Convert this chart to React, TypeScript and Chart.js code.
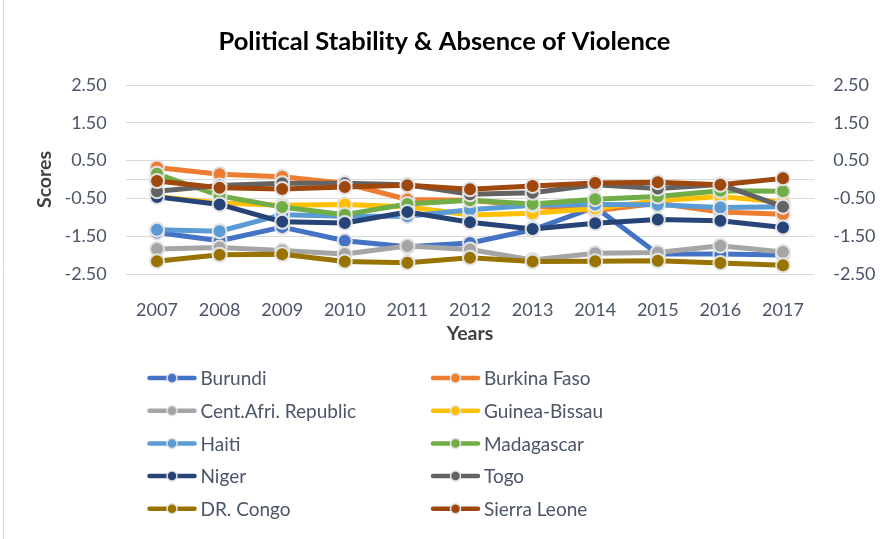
import React, { useEffect, useRef } from "react";
import { Chart, registerables } from "chart.js";

Chart.register(...registerables);

// Years on the category axis
const years = ["2007", "2008", "2009", "2010", "2011", "2012", "2013", "2014", "2015", "2016", "2017"];

// Political Stability & Absence of Violence estimates per country
const burundi = [-1.4, -1.62, -1.26, -1.62, -1.78, -1.68, -1.33, -0.73, -1.97, -1.97, -2.0];
const burkinaFaso = [0.32, 0.14, 0.07, -0.1, -0.53, -0.55, -0.7, -0.83, -0.63, -0.86, -0.92];
const centAfriRepublic = [-1.84, -1.8, -1.88, -1.97, -1.76, -1.85, -2.13, -1.95, -1.93, -1.75, -1.92];
const guineaBissau = [-0.45, -0.62, -0.68, -0.66, -0.72, -0.94, -0.89, -0.77, -0.56, -0.45, -0.6];
const haiti = [-1.33, -1.37, -0.93, -0.97, -0.97, -0.8, -0.68, -0.66, -0.67, -0.74, -0.72];
const madagascar = [0.15, -0.43, -0.73, -0.93, -0.65, -0.55, -0.65, -0.52, -0.45, -0.3, -0.31];
const niger = [-0.46, -0.66, -1.12, -1.15, -0.86, -1.13, -1.31, -1.16, -1.06, -1.09, -1.27];
const togo = [-0.31, -0.16, -0.1, -0.1, -0.14, -0.39, -0.35, -0.14, -0.24, -0.13, -0.72];
const drCongo = [-2.16, -1.99, -1.98, -2.17, -2.2, -2.07, -2.17, -2.16, -2.15, -2.21, -2.27];
const sierraLeone = [-0.04, -0.22, -0.25, -0.2, -0.15, -0.26, -0.17, -0.09, -0.07, -0.14, 0.03];

const countries = [
  "Burundi",
  "Burkina Faso",
  "Cent.Afri. Republic",
  "Guinea-Bissau",
  "Haiti",
  "Madagascar",
  "Niger",
  "Togo",
  "DR. Congo",
  "Sierra Leone",
];

const colors = [
  "#4472C4",
  "#ED7D31",
  "#A5A5A5",
  "#FFC000",
  "#5B9BD5",
  "#70AD47",
  "#264478",
  "#636363",
  "#997300",
  "#9E480E",
];

const FONT = "Lato, 'Open Sans', sans-serif";
const TEXT = "#4a5568";
const GRID = "#d9d9d9";
const MARKER_RING = "#e2e2e2";

function isLabelledTick(v: number) {
  const h = Math.round(v * 2);
  return h % 2 !== 0;
}

// Two-column legend under the plot, in series order row by row
const legendPlugin = {
  id: "twoColumnLegend",
  afterDraw(chart: any) {
    const ctx = chart.ctx;
    const colX = [147.5, 431];
    const rowY0 = 378;
    const rowStep = 32.7;
    ctx.save();
    chart.data.datasets.forEach((ds: any, i: number) => {
      const x = colX[i % 2];
      const y = rowY0 + Math.floor(i / 2) * rowStep;
      ctx.strokeStyle = ds.borderColor;
      ctx.lineWidth = 4.5;
      ctx.lineCap = "round";
      ctx.beginPath();
      ctx.moveTo(x + 2, y);
      ctx.lineTo(x + 47, y);
      ctx.stroke();
      ctx.beginPath();
      ctx.arc(x + 24.5, y, 5, 0, Math.PI * 2);
      ctx.fillStyle = ds.borderColor;
      ctx.fill();
      ctx.lineWidth = 1.5;
      ctx.strokeStyle = MARKER_RING;
      ctx.stroke();
      ctx.fillStyle = TEXT;
      ctx.font = `19px ${FONT}`;
      ctx.textAlign = "left";
      ctx.textBaseline = "middle";
      ctx.fillText(ds.label, x + 53, y + 1);
    });
    ctx.restore();
  },
};

// Thin frame line on the left edge of the chart
const framePlugin = {
  id: "leftFrame",
  afterDraw(chart: any) {
    const ctx = chart.ctx;
    ctx.save();
    ctx.strokeStyle = GRID;
    ctx.lineWidth = 1;
    ctx.beginPath();
    ctx.moveTo(3.5, 0);
    ctx.lineTo(3.5, chart.height);
    ctx.stroke();
    ctx.restore();
  },
};

export default function App() {
  const canvasRef = useRef<HTMLCanvasElement>(null);

  useEffect(() => {
    if (!canvasRef.current) return;
    const series = [
      burundi,
      burkinaFaso,
      centAfriRepublic,
      guineaBissau,
      haiti,
      madagascar,
      niger,
      togo,
      drCongo,
      sierraLeone,
    ];
    const datasets = countries.map((name, i) => ({
      label: name,
      data: series[i],
      borderColor: colors[i],
      backgroundColor: colors[i],
      pointBackgroundColor: colors[i],
      pointBorderColor: MARKER_RING,
      pointBorderWidth: 2,
      pointRadius: 7,
      borderWidth: 5,
      borderJoinStyle: "round" as const,
      borderCapStyle: "round" as const,
      tension: 0,
      yAxisID: "y",
      order: countries.length - i,
    }));

    const tickFont = { family: FONT, size: 18 };
    const yTicks = {
      color: TEXT,
      font: tickFont,
      padding: 19,
      autoSkip: false,
      stepSize: 0.5,
      callback: (v: any) => (isLabelledTick(Number(v)) ? Number(v).toFixed(2) : ""),
    };

    const chart = new Chart(canvasRef.current, {
      type: "line",
      data: { labels: years, datasets },
      plugins: [legendPlugin, framePlugin],
      options: {
        animation: false,
        responsive: false,
        layout: { padding: { left: 0, right: 0, top: 0, bottom: 190 } },
        plugins: {
          legend: { display: false },
          tooltip: { enabled: false },
          title: {
            display: true,
            text: "Political Stability & Absence of Violence",
            color: "#000000",
            font: { family: FONT, size: 25.5, weight: "bold" },
            padding: { top: 26.7, bottom: 27.7 },
          },
        },
        scales: {
          x: {
            type: "category",
            offset: true,
            grid: { display: false },
            border: { display: false },
            ticks: { color: TEXT, font: tickFont, padding: 17, maxRotation: 0 },
            title: {
              display: true,
              text: "Years",
              color: "#404040",
              font: { family: FONT, size: 19.5, weight: "bold" },
              padding: { top: 0, bottom: 3.5 },
            },
            afterFit: (scale: any) => {
              scale.height = 75;
            },
          },
          y: {
            position: "left",
            min: -2.5,
            max: 2.5,
            grid: {
              drawTicks: false,
              lineWidth: 1,
              color: (c: any) => {
                const v = c.tick ? c.tick.value : NaN;
                if (isNaN(v)) return "rgba(0,0,0,0)";
                return isLabelledTick(v) || Math.abs(v) < 1e-9 ? GRID : "rgba(0,0,0,0)";
              },
            },
            border: { display: false },
            ticks: yTicks,
            title: {
              display: true,
              text: "Scores",
              color: "#404040",
              font: { family: FONT, size: 19.5, weight: "bold" },
              padding: { top: 33.5, bottom: 0 },
            },
            afterFit: (scale: any) => {
              scale.width = 125.7;
            },
          },
          y2: {
            position: "right",
            min: -2.5,
            max: 2.5,
            display: true,
            grid: { display: false, drawTicks: false },
            border: { display: false },
            ticks: yTicks,
            afterFit: (scale: any) => {
              scale.width = 74.7;
            },
          },
        },
      },
    } as any);

    return () => {
      chart.destroy();
    };
  }, []);

  return (
    <div style={{ position: "fixed", left: 0, top: 0, width: 889, height: 539, background: "#ffffff" }}>
      <canvas ref={canvasRef} width={889} height={539} style={{ width: 889, height: 539, display: "block" }} />
    </div>
  );
}
